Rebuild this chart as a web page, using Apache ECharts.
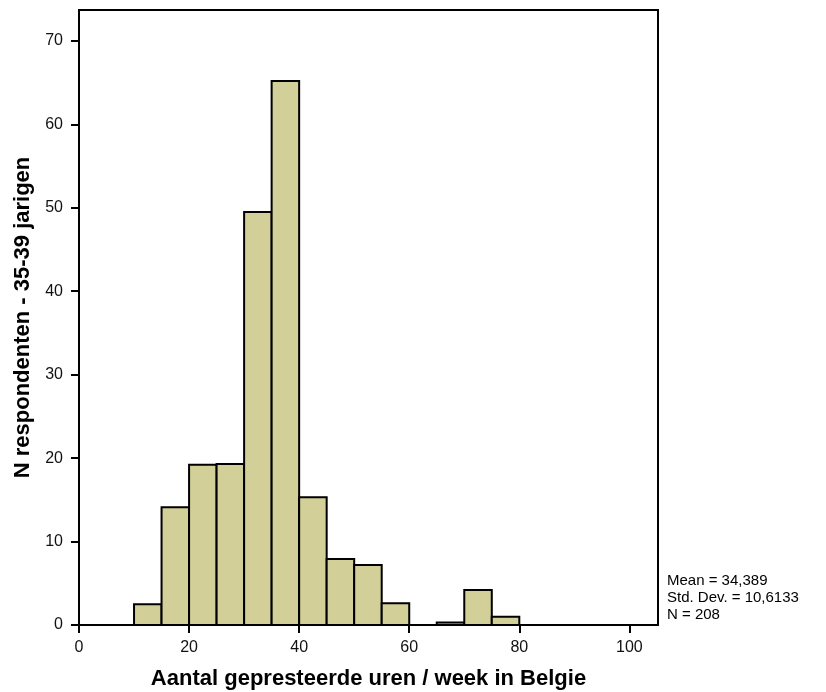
<!DOCTYPE html>
<html>
<head>
<meta charset="utf-8">
<script src="https://cdn.jsdelivr.net/npm/echarts@6/dist/echarts.min.js"></script>
<style>
  html, body { margin: 0; padding: 0; background: #fff; }
  #chart { width: 826px; height: 692px; }
</style>
</head>
<body>
<div id="chart"></div>
<script>
// bin edges (hours/week) and counts
const binStart = [10, 15, 20, 25, 30, 35, 40, 45, 50, 55, 60, 65, 70, 75]
const binEnd = [15, 20, 25, 30, 35, 40, 45, 50, 55, 60, 65, 70, 75, 80]
const counts = [2.5, 14.1, 19.2, 19.3, 49.5, 65.2, 15.3, 7.9, 7.2, 2.6, 0, 0.3, 4.2, 1.0]
const xTicks = [0, 20, 40, 60, 80, 100]
const yTicks = [0, 10, 20, 30, 40, 50, 60, 70]
const statLines = ['Mean = 34,389', 'Std. Dev. = 10,6133', 'N = 208']

const font = 'Liberation Sans, Arial, sans-serif'
const chart = echarts.init(document.getElementById('chart'))

const data = counts.map((c, i) => [binStart[i], binEnd[i], c])

const option = {
  animation: false,
  grid: {
    left: 79, top: 10, right: 168, bottom: 67,
    outerBoundsMode: 'none',
    show: true, borderColor: '#000', borderWidth: 2, backgroundColor: '#fff'
  },
  xAxis: {
    type: 'value',
    min: 0, max: 105.2,
    name: 'Aantal gepresteerde uren / week in Belgie',
    nameLocation: 'middle',
    nameGap: 43,
    nameTextStyle: { fontFamily: font, fontSize: 22, fontWeight: 'bold', color: '#000' },
    axisLine: { lineStyle: { color: '#000', width: 2 } },
    axisTick: { show: true, customValues: xTicks, length: 8, lineStyle: { color: '#000', width: 2 } },
    axisLabel: { customValues: xTicks, fontFamily: font, fontSize: 16, color: '#111', margin: 15 },
    splitLine: { show: false }
  },
  yAxis: {
    type: 'value',
    min: 0, max: 73.7,
    name: 'N respondenten - 35-39 jarigen',
    nameLocation: 'middle',
    nameGap: 42,
    nameTextStyle: { fontFamily: font, fontSize: 22, fontWeight: 'bold', color: '#000' },
    axisLine: { show: true, lineStyle: { color: '#000', width: 2 } },
    axisTick: { show: true, customValues: yTicks, length: 8, lineStyle: { color: '#000', width: 2 } },
    axisLabel: { customValues: yTicks, fontFamily: font, fontSize: 16, color: '#111', margin: 16 },
    splitLine: { show: false }
  },
  series: [{
    type: 'custom',
    data: data,
    encode: { x: [0, 1], y: 2 },
    renderItem: (params, api) => {
      const p0 = api.coord([api.value(0), api.value(2)])
      const p1 = api.coord([api.value(1), 0])
      return {
        type: 'rect',
        shape: { x: p0[0], y: p0[1], width: p1[0] - p0[0], height: p1[1] - p0[1] },
        style: { fill: '#d3cf98', stroke: '#000', lineWidth: 2 }
      }
    }
  }],
  graphic: statLines.map((t, i) => ({
    type: 'text',
    left: 667,
    top: 573 + i * 17,
    style: { text: t, fontFamily: font, fontSize: 15, fill: '#000' }
  }))
}

chart.setOption(option)
</script>
</body>
</html>
